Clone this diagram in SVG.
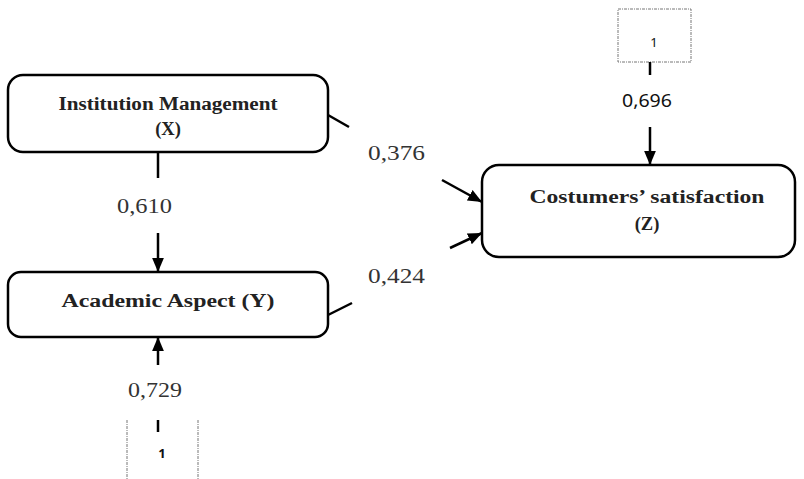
<svg xmlns="http://www.w3.org/2000/svg" width="804" height="479" viewBox="0 0 804 479">
<defs>
<marker id="ah" viewBox="0 0 10 10" refX="10" refY="5" markerWidth="5.6" markerHeight="5.6" orient="auto" markerUnits="strokeWidth">
<path d="M0,0.8 L10,5 L0,9.2 z" fill="#000"/>
</marker>
<style>
.node{fill:#fff;stroke:#000;stroke-width:2.5}
.nt{font-family:"Liberation Serif",serif;font-weight:bold;font-size:18.5px;fill:#222;text-anchor:middle}
.lbl{font-family:"Liberation Serif",serif;font-size:21px;fill:#333}
.c{stroke:#000;stroke-width:2.5;fill:none}
.err{fill:none;stroke:#777;stroke-width:1;stroke-dasharray:3,1,1,1}
.one{font-family:"Noto Sans",sans-serif;font-size:13px;fill:#111;text-anchor:middle}
</style>
</defs>
<rect width="804" height="479" fill="#fff"/>
<g id="nodeX">
<rect class="node" x="8" y="75" width="320" height="77" rx="15"/>
<text class="nt" x="168" y="110" textLength="219" lengthAdjust="spacingAndGlyphs">Institution Management</text>
<text class="nt" x="168" y="135">(X)</text>
</g>
<g id="nodeY">
<rect class="node" x="8" y="272" width="320" height="65" rx="13"/>
<text class="nt" x="168" y="307" textLength="213" lengthAdjust="spacingAndGlyphs">Academic Aspect (Y)</text>
</g>
<g id="nodeZ">
<rect class="node" x="482" y="165" width="313" height="92" rx="17"/>
<text class="nt" x="647" y="203" textLength="235" lengthAdjust="spacingAndGlyphs">Costumers’ satisfaction</text>
<text class="nt" x="647" y="230">(Z)</text>
</g>
<g id="errZ">
<rect class="err" x="618" y="9" width="73" height="53"/>
<text class="one" x="654" y="47">1</text>
</g>
<g id="errY">
<line class="err" x1="127" y1="420" x2="127" y2="479"/>
<line class="err" x1="198" y1="420" x2="198" y2="479"/>
<text class="one" x="162" y="458" font-weight="bold">1</text>
</g>
<g id="connectors">
<line class="c" x1="158" y1="152" x2="158" y2="178"/>
<line class="c" x1="158" y1="233" x2="158" y2="272" marker-end="url(#ah)"/>
<line class="c" x1="328" y1="115" x2="349" y2="127"/>
<line class="c" x1="442" y1="180" x2="482" y2="202" marker-end="url(#ah)"/>
<line class="c" x1="328" y1="315" x2="352" y2="303"/>
<line class="c" x1="450" y1="248" x2="482" y2="233" marker-end="url(#ah)"/>
<line class="c" x1="650" y1="62" x2="650" y2="75"/>
<line class="c" x1="650" y1="127" x2="650" y2="165" marker-end="url(#ah)"/>
<line class="c" x1="158" y1="365" x2="158" y2="337" marker-end="url(#ah)"/>
<line class="c" x1="158" y1="420" x2="158" y2="432"/>
</g>
<g id="labels">
<text class="lbl" x="368" y="160" textLength="57" lengthAdjust="spacingAndGlyphs">0,376</text>
<text class="lbl" x="117" y="213" textLength="55" lengthAdjust="spacingAndGlyphs">0,610</text>
<text class="lbl" x="368" y="283" textLength="57" lengthAdjust="spacingAndGlyphs">0,424</text>
<text class="lbl" x="128" y="397" textLength="54" lengthAdjust="spacingAndGlyphs">0,729</text>
<text x="622" y="107" font-family="'Noto Sans',sans-serif" font-size="18" fill="#111" textLength="50" lengthAdjust="spacingAndGlyphs">0,696</text>
</g>
</svg>
